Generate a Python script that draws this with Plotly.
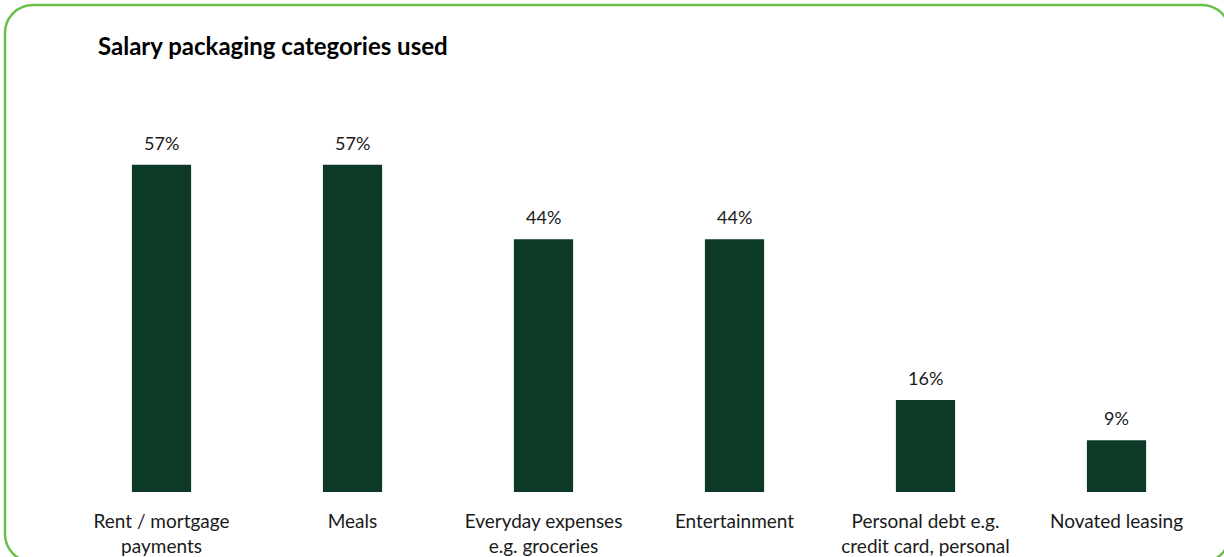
import plotly.graph_objects as go

# Salary packaging categories and share of respondents using each (%)
categories = [
    "Rent / mortgage<br>payments",
    "Meals",
    "Everyday expenses<br>e.g. groceries",
    "Entertainment",
    "Personal debt e.g.<br>credit card, personal",
    "Novated leasing",
]
values = [57, 57, 44, 44, 16, 9]
value_labels = [f"{v}%" for v in values]

title_text = "Salary packaging categories used"

W, H = 1224, 557
M_L, M_R, M_T, M_B = 66, 12, 90, 65
PW, PH = W - M_L - M_R, H - M_T - M_B

BAR = "#0c3a27"
FRAME = "#6abf4b"
FONT = "Lato, 'Open Sans', sans-serif"


def px_to_paper(x, y):
    return (x - M_L) / PW, (H - M_B - y) / PH


def rounded_rect_path(x0, y0, x1, y1, r):
    k = 0.5523 * r

    def P(x, y):
        px, py = px_to_paper(x, y)
        return f"{px:.5f},{py:.5f}"

    d = f"M {P(x0 + r, y0)} L {P(x1 - r, y0)} "
    d += f"C {P(x1 - r + k, y0)} {P(x1, y0 + r - k)} {P(x1, y0 + r)} "
    d += f"L {P(x1, y1 - r)} "
    d += f"C {P(x1, y1 - r + k)} {P(x1 - r + k, y1)} {P(x1 - r, y1)} "
    d += f"L {P(x0 + r, y1)} "
    d += f"C {P(x0 + r - k, y1)} {P(x0, y1 - r + k)} {P(x0, y1 - r)} "
    d += f"L {P(x0, y0 + r)} "
    d += f"C {P(x0, y0 + r - k)} {P(x0 + r - k, y0)} {P(x0 + r, y0)} Z"
    return d


fig = go.Figure(
    go.Bar(
        x=categories,
        y=values,
        marker=dict(color=BAR, line=dict(width=0)),
        hoverinfo="skip",
    )
)

# percentage labels above each bar
for c, v, t in zip(categories, values, value_labels):
    fig.add_annotation(
        x=c, y=v, xref="x", yref="y", text=t, showarrow=False,
        yanchor="bottom", yshift=9,
        font=dict(family=FONT, size=18, color="#1a1a1a"),
    )

tx, ty = px_to_paper(96, 45)
fig.add_annotation(
    x=tx, y=ty, xref="paper", yref="paper", text=f"<b>{title_text}</b>",
    showarrow=False, xanchor="left", yanchor="middle",
    font=dict(family=FONT, size=24, color="#000000"),
)

fig.add_shape(
    type="path", xref="paper", yref="paper",
    path=rounded_rect_path(5, 5, 1230, 562, 28),
    line=dict(color=FRAME, width=2.5), fillcolor="rgba(0,0,0,0)",
    layer="below",
)

fig.update_layout(
    width=W, height=H,
    margin=dict(l=M_L, r=M_R, t=M_T, b=M_B, pad=0, autoexpand=False),
    plot_bgcolor="white", paper_bgcolor="white",
    bargap=0.69,
    showlegend=False,
    font=dict(family=FONT, size=19, color="#1a1a1a"),
)
fig.update_xaxes(
    showline=False, showgrid=False, zeroline=False, ticks="",
    tickfont=dict(family=FONT, size=19, color="#1a1a1a"),
    ticklabelstandoff=16, automargin=False,
)
fig.update_yaxes(
    range=[0, 70], visible=False, showgrid=False, zeroline=False,
    automargin=False,
)

fig.write_html("out.html")
